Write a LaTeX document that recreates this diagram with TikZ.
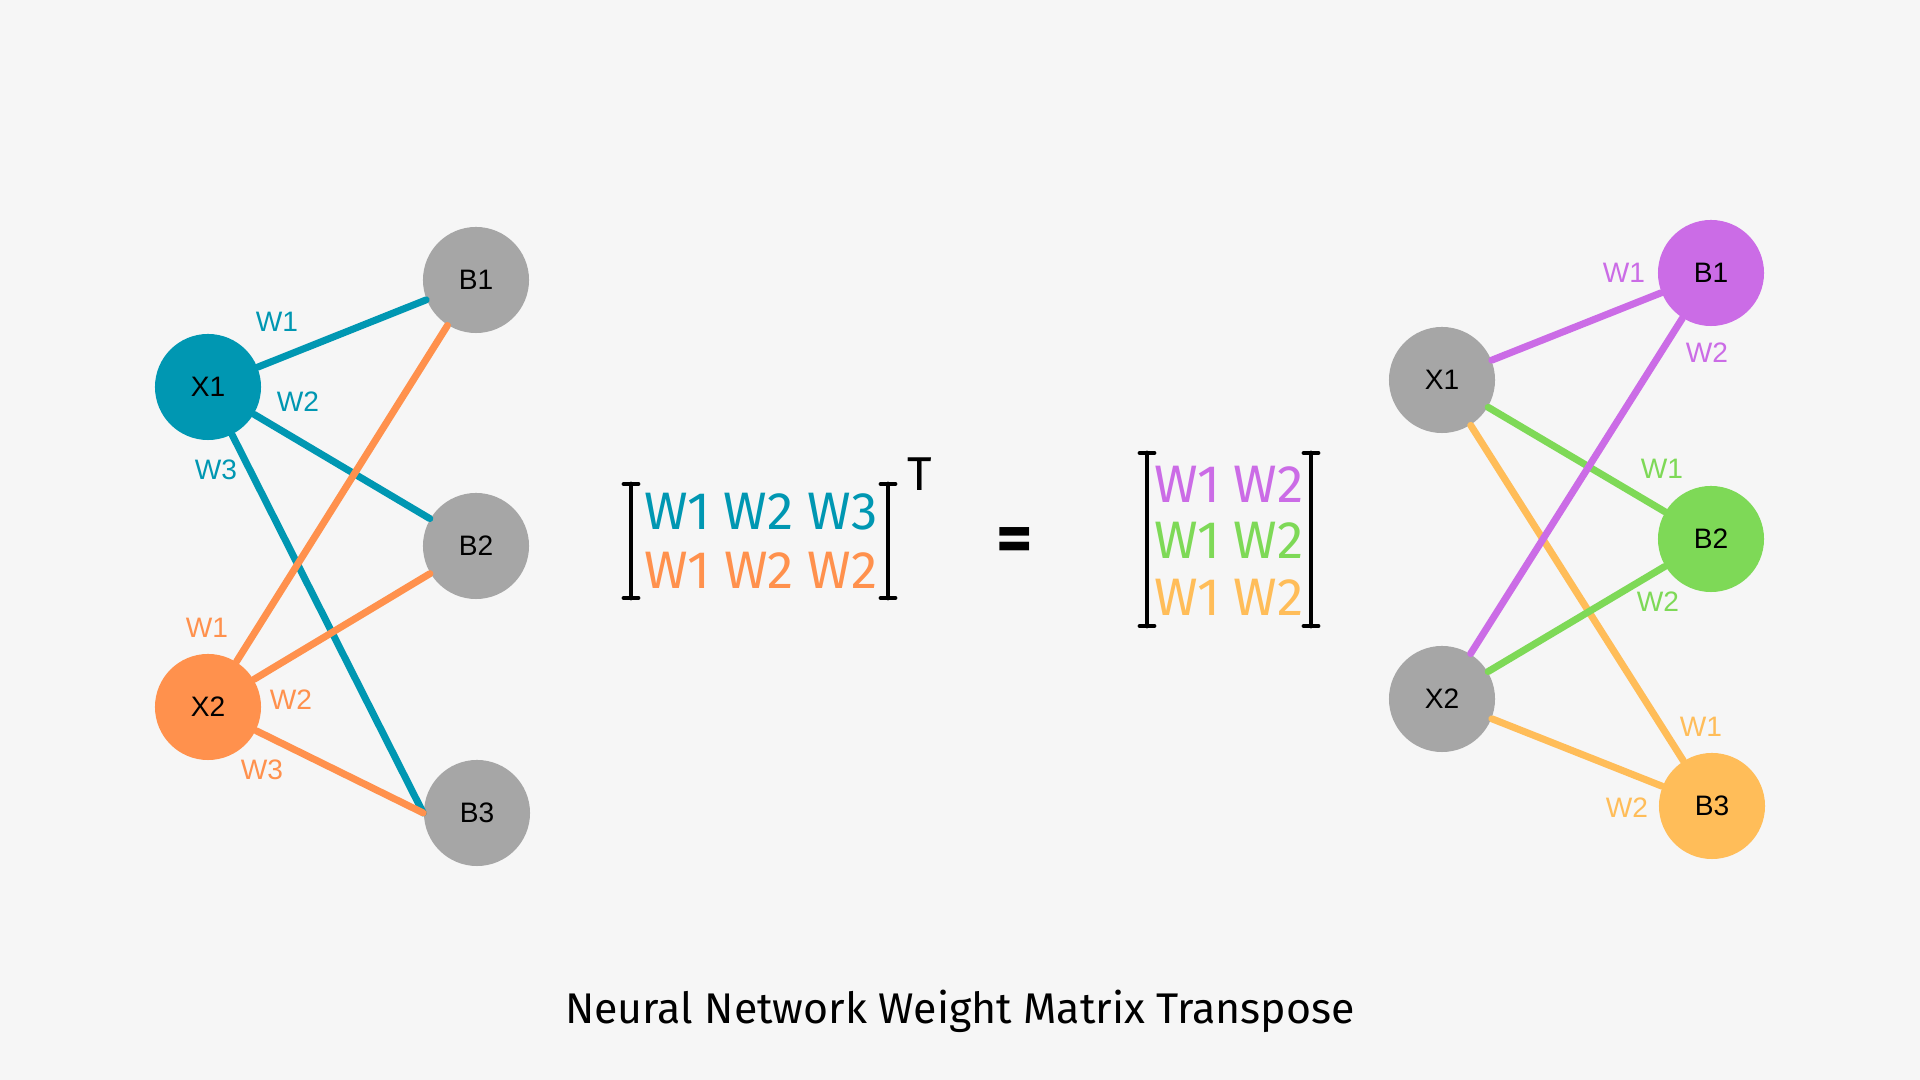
\documentclass[tikz,border=0pt]{standalone}
\usepackage{fontspec}
\setmainfont{Liberation Sans}
\newfontfamily\matfont{Fira Sans}

\definecolor{bgcol}{HTML}{F6F6F6}
\definecolor{nodegray}{HTML}{A6A6A6}
\definecolor{wteal}{HTML}{0097B2}
\definecolor{worange}{HTML}{FF914D}
\definecolor{wpurple}{HTML}{CB6CE6}
\definecolor{wgreen}{HTML}{7ED957}
\definecolor{wyellow}{HTML}{FFBD59}

\begin{document}
\begin{tikzpicture}[x=0.01cm, y=-0.01cm,
    neuron/.style={circle, fill=#1, minimum size=1.06cm, inner sep=0pt,
                   font=\fontsize{8}{8}\selectfont},
    neuron/.default=nodegray,
    wline/.style={line width=2pt, line cap=round, draw=#1},
    wlab/.style={text=#1, font=\fontsize{8}{8}\selectfont},
    mrow/.style={text=#1, font=\matfont\fontsize{15}{15}\selectfont},
    brk/.style={line width=1.4pt, line cap=round}]

    % Canvas
    \fill[bgcol] (0,0) rectangle (1920,1080);
    \useasboundingbox (0,0) rectangle (1920,1080);

    %========================
    % Left network: X -> B
    %========================
    \begin{scope}
        \node[neuron=wteal]   (lx1) at (208,387) {X1};
        \node[neuron=worange] (lx2) at (208,707) {X2};
        \node[neuron] (lb1) at (476,280) {B1};
        \node[neuron] (lb2) at (476,546) {B2};
        \node[neuron] (lb3) at (477,813) {B3};

        % Weights of X1
        \draw[wline=wteal] (lx1) -- (lb1);
        \draw[wline=wteal] (lx1) -- (lb2);
        \draw[wline=wteal] (lx1) -- (lb3.west);

        % Weights of X2
        \draw[wline=worange] (lx2) -- (lb1);
        \draw[wline=worange] (lx2) -- (lb2);
        \draw[wline=worange] (lx2) -- (lb3.west);

        % Labels
        \node[wlab=wteal] (lw11) at (277,322) {W1};
        \node[wlab=wteal] (lw12) at (298,402) {W2};
        \node[wlab=wteal] (lw13) at (216,470) {W3};
        \node[wlab=worange] (lw21) at (207,628) {W1};
        \node[wlab=worange] (lw22) at (291,700) {W2};
        \node[wlab=worange] (lw23) at (262,770) {W3};
    \end{scope}

    %========================
    % Matrices
    %========================
    \foreach \bx/\ya/\yb in {631/484/598, 888/484/598, 1147/453/626, 1311/453/626} {
        \draw[brk] (\bx,\ya) -- (\bx,\yb);
        \draw[brk] (\bx-7,\ya) -- (\bx+7,\ya);
        \draw[brk] (\bx-7,\yb) -- (\bx+7,\yb);
    }

    \node[mrow=wteal]   (m1) at (761,512) {W1 W2 W3};
    \node[mrow=worange] (m2) at (761,570) {W1 W2 W2};
    \node[font=\matfont\fontsize{13.5}{13.5}\selectfont] (tr) at (920,474) {T};

    \node[font=\matfont\bfseries\fontsize{20}{20}\selectfont] (eq) at (1015,545) {=};

    \node[mrow=wpurple] (n1) at (1229,484) {W1 W2};
    \node[mrow=wgreen]  (n2) at (1229,540) {W1 W2};
    \node[mrow=wyellow] (n3) at (1229,597) {W1 W2};

    %========================
    % Right network: transposed
    %========================
    \begin{scope}
        \node[neuron] (rx1) at (1442,380) {X1};
        \node[neuron] (rx2) at (1442,699) {X2};
        \node[neuron=wpurple] (rb1) at (1711,273) {B1};
        \node[neuron=wgreen]  (rb2) at (1711,539) {B2};
        \node[neuron=wyellow] (rb3) at (1712,806) {B3};

        \draw[wline=wyellow] (rx1) -- (rb3);
        \draw[wline=wyellow] (rx2) -- (rb3);
        \draw[wline=wgreen] (rx1) -- (rb2);
        \draw[wline=wgreen] (rx2) -- (rb2);
        \draw[wline=wpurple] (rx1) -- (rb1);
        \draw[wline=wpurple] (rx2) -- (rb1);

        % Labels
        \node[wlab=wpurple] (rw11) at (1624,273) {W1};
        \node[wlab=wpurple] (rw12) at (1707,353) {W2};
        \node[wlab=wgreen]  (rw21) at (1662,469) {W1};
        \node[wlab=wgreen]  (rw22) at (1658,602) {W2};
        \node[wlab=wyellow] (rw31) at (1701,727) {W1};
        \node[wlab=wyellow] (rw32) at (1627,808) {W2};
    \end{scope}

    % Title
    \node[font=\matfont\fontsize{12.2}{12.2}\selectfont] (title) at (960,1011)
        {Neural Network Weight Matrix Transpose};

\end{tikzpicture}
\end{document}
